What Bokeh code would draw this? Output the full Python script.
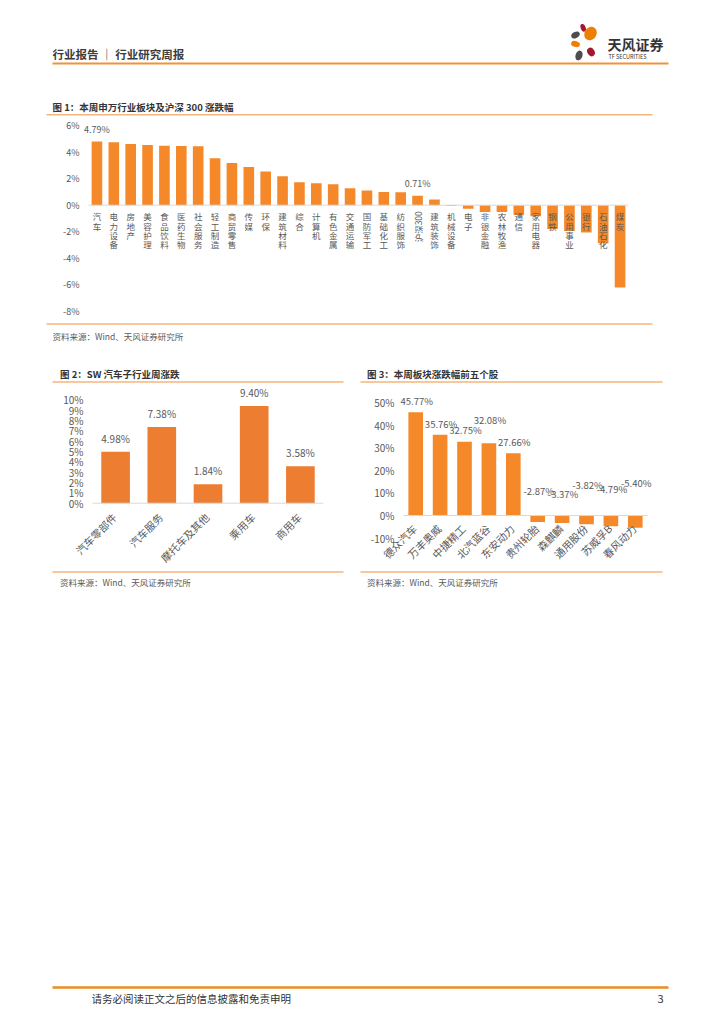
import math
from bokeh.plotting import figure
from bokeh.models import Range1d, FixedTicker, CustomJSTickFormatter
from bokeh.layouts import column, row
from bokeh.core.properties import value
from bokeh.embed import file_html
from bokeh.resources import INLINE

FONT = "Noto Sans CJK SC"

# ---------------- data ----------------
sectors1 = ["汽车", "电力设备", "房地产", "美容护理", "食品饮料", "医药生物", "社会服务",
            "轻工制造", "商贸零售", "传媒", "环保", "建筑材料", "综合", "计算机", "有色金属",
            "交通运输", "国防军工", "基础化工", "纺织服饰", "沪深300", "建筑装饰", "机械设备",
            "电子", "非银金融", "农林牧渔", "通信", "家用电器", "钢铁", "公用事业", "银行",
            "石油石化", "煤炭"]
change1 = [4.79, 4.73, 4.60, 4.53, 4.48, 4.45, 4.43, 3.53, 3.18, 2.88, 2.53, 2.18, 1.73,
           1.65, 1.58, 1.28, 1.10, 1.00, 0.97, 0.71, 0.43, -0.06, -0.27, -0.52, -0.52,
           -0.73, -0.84, -1.80, -1.94, -2.06, -2.86, -6.20]
ticks1 = [-8, -6, -4, -2, 0, 2, 4, 6]
labeled1 = ["汽车", "沪深300"]

segments2 = ["汽车零部件", "汽车服务", "摩托车及其他", "乘用车", "商用车"]
change2 = [4.98, 7.38, 1.84, 9.40, 3.58]
ticks2 = [0, 1, 2, 3, 4, 5, 6, 7, 8, 9, 10]

stocks3 = ["德众汽车", "万丰奥威", "中捷精工", "北汽蓝谷", "东安动力",
           "贵州轮胎", "森麒麟", "通用股份", "苏威孚B", "春风动力"]
change3 = [45.77, 35.76, 32.75, 32.08, 27.66, -2.87, -3.37, -3.82, -4.79, -5.40]
label_pos3 = [50.6, 40.7, 37.7, 42.4, 32.8, 11.0, 9.6, 13.7, 11.8, 14.6]
ticks3 = [-10, 0, 10, 20, 30, 40, 50]

SRC = "资料来源：Wind、天风证券研究所"
GRAY = "#595959"
TITLE_LINE = "#F6B47E"


# ---------------- helpers ----------------
def canvas(w, h, x0, y0):
    f = figure(width=w, height=h, x_range=Range1d(x0, x0 + w), y_range=Range1d(y0 + h, y0),
               x_axis_location=None, y_axis_location=None, toolbar_location=None,
               output_backend="svg", tools="", min_border=0, frame_align=False)
    f.outline_line_color = None
    f.grid.visible = False
    return f


def txt(f, x, y, s, size, color="#404040", bold=False, align="left"):
    f.text(x=[x], y=[y], text=[s], text_font=value(FONT), text_font_size=f"{size}px",
           text_color=color, text_align=align, text_baseline="middle",
           text_font_style="bold" if bold else "normal")


def hline(f, x1, x2, y, color, w):
    f.segment(x0=[x1], y0=[y], x1=[x2], y1=[y], line_color=color, line_width=w)


def chart(w, h, xr, yr, bl, br, bt, bb):
    p = figure(width=w, height=h, x_range=xr, y_range=yr, x_axis_location=None,
               toolbar_location=None, output_backend="svg", tools="",
               min_border_left=bl, min_border_right=br, min_border_top=bt,
               min_border_bottom=bb, frame_align=False)
    p.xgrid.visible = False
    p.ygrid.visible = False
    p.outline_line_color = None
    return p


def style_y(p, ticks, size, standoff):
    p.yaxis.ticker = FixedTicker(ticks=ticks, minor_ticks=[])
    p.yaxis.formatter = CustomJSTickFormatter(code="return tick + '%';")
    p.yaxis.axis_line_color = None
    p.yaxis.major_tick_line_color = None
    p.yaxis.minor_tick_line_color = None
    p.yaxis.major_tick_out = 0
    p.yaxis.major_tick_in = 0
    p.yaxis.major_label_standoff = standoff
    p.yaxis.major_label_text_font = FONT
    p.yaxis.major_label_text_font_size = f"{size}px"
    p.yaxis.major_label_text_color = GRAY


def zero_line(p, n):
    p.segment(x0=[0], y0=[0], x1=[n], y1=[0], line_color="#D9D9D9", line_width=1)


# ---------------- band A: header (image y 0..118) ----------------
a = canvas(708, 118, 0, 0)
txt(a, 52, 53, "行业报告 ｜ 行业研究周报", 11.5, "#3C3C3C", bold=True)
hline(a, 52, 668, 63, "#F0923A", 2)
a.ellipse(x=[582.7], y=[27.3], width=[5], height=[8], angle=[0.35], fill_color="#A3182F", line_color=None)
a.ellipse(x=[575], y=[34.5], width=[9], height=[6], angle=[0.5], fill_color="#4D4D4D", line_color=None)
a.ellipse(x=[590], y=[33], width=[12], height=[14], angle=[-0.6], fill_color="#EE7F00", line_color=None)
a.ellipse(x=[575], y=[43.5], width=[9], height=[6], angle=[-0.3], fill_color="#EE7F00", line_color=None)
a.ellipse(x=[590.5], y=[51.5], width=[7], height=[9], angle=[0.6], fill_color="#A3182F", line_color=None)
a.ellipse(x=[578.5], y=[55], width=[7], height=[10], angle=[-0.3], fill_color="#4D4D4D", line_color=None)
txt(a, 607, 43, "天风证券", 14, "#333333", bold=True)
txt(a, 608, 56.5, "TF SECURITIES", 5.5, "#333333")
txt(a, 52, 106, "图 1：本周申万行业板块及沪深 300 涨跌幅", 9.5, "#333333", bold=True)
hline(a, 46, 652, 114.3, TITLE_LINE, 1.5)

# ---------------- band B: chart 1 (image y 118..318) ----------------
n1 = len(sectors1)
xs1 = [i + 0.5 for i in range(n1)]
p1 = chart(708, 200, Range1d(-0.474, n1), Range1d(-8, 6.45), 80, 80, 1, 7)
p1.vbar(x=xs1, top=change1, bottom=0, width=0.63, fill_color="#F5892A", line_color=None)
zero_line(p1, n1)
style_y(p1, ticks1, 9, 1)

CH = 9.3
up_x, up_t, up_off = [], [], []
rot_x, rot_t = [], []
for xi, s in zip(xs1, sectors1):
    if any(ch.isdigit() for ch in s):
        rot_x.append(xi)
        rot_t.append(s)
        continue
    for i, ch in enumerate(s):
        up_x.append(xi)
        up_t.append(ch)
        up_off.append(5 + i * CH)
p1.text(x=up_x, y=[0] * len(up_x), text=up_t, y_offset=up_off, text_align="center",
        text_baseline="top", text_font=value(FONT), text_font_size="8.5px", text_color=GRAY)
p1.text(x=rot_x, y=[0] * len(rot_x), text=rot_t, angle=math.pi / 2, y_offset=6,
        text_align="right", text_baseline="middle",
        text_font=value(FONT), text_font_size="8.5px", text_color=GRAY)

lab_idx1 = [sectors1.index(c) for c in labeled1]
p1.text(x=[xs1[i] for i in lab_idx1], y=[change1[i] for i in lab_idx1],
        text=[f"{change1[i]:.2f}%" for i in lab_idx1], text_align="center",
        text_baseline="bottom", y_offset=-6, text_font=value(FONT), text_font_size="9px",
        text_color=GRAY)

# ---------------- band C: source 1, titles 2/3 (image y 318..386) ----------------
c = canvas(708, 68, 0, 318)
hline(c, 46, 652, 323.5, TITLE_LINE, 1.5)
txt(c, 52, 335, SRC, 8.5, GRAY)
txt(c, 59.5, 373, "图 2：SW 汽车子行业周涨跌", 9.5, "#333333", bold=True)
hline(c, 52, 343, 381.5, TITLE_LINE, 1.5)
txt(c, 366.5, 373, "图 3：本周板块涨跌幅前五个股", 9.5, "#333333", bold=True)
hline(c, 360, 662, 381.5, TITLE_LINE, 1.5)

# ---------------- band D: charts 2 and 3 (image y 386..566) ----------------
n2 = len(segments2)
xs2 = [i + 0.5 for i in range(n2)]
p2 = chart(358, 180, Range1d(-0.476, n2), Range1d(-6.13, 11.3), 70, 35, 0, 0)
p2.vbar(x=xs2, top=change2, bottom=0, width=0.62, fill_color="#ED7D31", line_color=None)
zero_line(p2, n2)
style_y(p2, ticks2, 10, -13)
p2.text(x=xs2, y=change2, text=[f"{v:.2f}%" for v in change2], text_align="center",
        text_baseline="bottom", y_offset=-6, text_font=value(FONT), text_font_size="10px",
        text_color=GRAY)
p2.text(x=xs2, y=[0] * n2, text=segments2, angle=math.pi / 4,
        text_align="right", text_baseline="middle", x_offset=-1, y_offset=12,
        text_font=value(FONT), text_font_size="10.5px", text_color=GRAY)

n3 = len(stocks3)
xs3 = [i + 0.5 for i in range(n3)]
p3 = chart(350, 180, Range1d(-0.943, n3 + 0.533), Range1d(-22.6, 57.2), 22, 48, 0, 0)
p3.vbar(x=xs3, top=change3, bottom=0, width=0.6, fill_color="#F5892A", line_color=None)
zero_line(p3, n3)
style_y(p3, ticks3, 10, -14)
p3.text(x=xs3, y=label_pos3, text=[f"{v:.2f}%" for v in change3], text_align="center",
        text_baseline="middle", x_offset=1, text_font=value(FONT), text_font_size="9.5px",
        text_color=GRAY)
p3.text(x=xs3, y=[0] * n3, text=stocks3, angle=math.pi / 4,
        text_align="right", text_baseline="middle", x_offset=-1, y_offset=11,
        text_font=value(FONT), text_font_size="10.5px", text_color=GRAY)

# ---------------- band E: sources + footer (image y 566..1008) ----------------
e = canvas(708, 442, 0, 566)
hline(e, 52, 343, 571.5, TITLE_LINE, 1.5)
txt(e, 59.5, 581, SRC, 8.5, GRAY)
hline(e, 360, 662, 571.5, TITLE_LINE, 1.5)
txt(e, 366.5, 581, SRC, 8.5, GRAY)
hline(e, 52, 668, 987, "#E98E1E", 2.5)
txt(e, 91, 998, "请务必阅读正文之后的信息披露和免责申明", 10.5, "#333333")
txt(e, 663, 998, "3", 11, "#333333", align="right")

layout = column(a, p1, c, row(p2, p3, spacing=0), e, spacing=0)
open("out.html", "w").write(file_html(layout, INLINE))
